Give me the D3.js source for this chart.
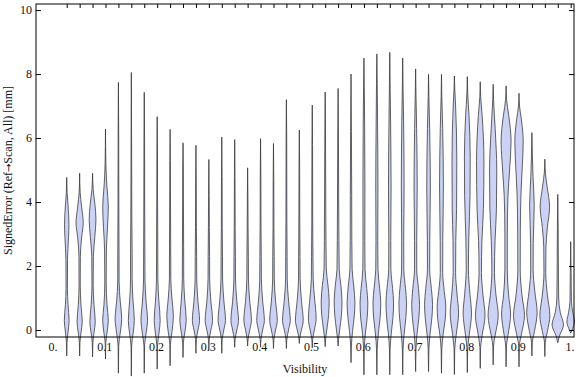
<!DOCTYPE html>
<html>
<head>
<meta charset="utf-8">
<script src="https://cdn.jsdelivr.net/npm/d3@7"></script>
<style>
    body { margin: 0; background: #fff; }
    text { font-family: "Liberation Serif", "Times New Roman", serif; fill: #111; }
</style>
</head>
<body>
<svg id="chart"></svg>
<script>
// category positions (visibility bins)
const visibility = [0.025, 0.05, 0.075, 0.1, 0.125, 0.15, 0.175, 0.2, 0.225, 0.25,
    0.275, 0.3, 0.325, 0.35, 0.375, 0.4, 0.425, 0.45, 0.475, 0.5,
    0.525, 0.55, 0.575, 0.6, 0.625, 0.65, 0.675, 0.7, 0.725, 0.75,
    0.775, 0.8, 0.825, 0.85, 0.875, 0.9, 0.925, 0.95, 0.975, 1.0];

// violin outlines: [signed error, relative density]
const violinProfiles = [
    [[-0.81, 0], [-0.4, 0.3], [-0.1, 1.2], [0.3, 2.4], [0.8, 1.3], [1.3, 0.7], [2.2, 0.8], [2.9, 1.8], [3.3, 2.2], [3.9, 1.3], [4.3, 0.4], [4.77, 0]],
    [[-0.81, 0], [-0.4, 0.3], [-0.1, 1.3], [0.25, 2.6], [0.8, 1.3], [1.4, 0.6], [2.3, 0.7], [2.9, 2.0], [3.35, 3.6], [3.85, 2.0], [4.3, 0.5], [4.9, 0]],
    [[-0.84, 0], [-0.4, 0.3], [-0.1, 1.4], [0.25, 2.7], [0.8, 1.4], [1.4, 0.6], [2.3, 0.8], [2.9, 2.2], [3.45, 3.4], [3.95, 2.3], [4.4, 0.6], [4.9, 0]],
    [[-0.91, 0], [-0.4, 0.3], [-0.1, 1.5], [0.3, 2.8], [0.8, 1.5], [1.5, 0.7], [2.5, 0.9], [3.2, 2.0], [3.85, 2.8], [4.5, 1.4], [5.2, 0.4], [6.28, 0]],
    [[-1.35, 0], [-0.5, 0.3], [-0.1, 1.8], [0.35, 3.3], [0.9, 1.8], [1.5, 0.7], [2.5, 0.6], [4, 0.4], [6, 0.3], [7.74, 0]],
    [[-1.44, 0], [-0.5, 0.3], [-0.1, 1.8], [0.3, 3.0], [0.9, 1.7], [1.6, 0.8], [2.4, 0.8], [3.5, 0.5], [5.5, 0.3], [8.05, 0]],
    [[-1.35, 0], [-0.5, 0.3], [-0.1, 1.9], [0.3, 3.3], [0.9, 1.8], [1.6, 0.7], [2.6, 0.6], [4, 0.4], [6, 0.3], [7.43, 0]],
    [[-1.22, 0], [-0.5, 0.3], [-0.1, 1.8], [0.3, 3.0], [0.9, 1.7], [1.6, 0.7], [2.6, 0.6], [4, 0.4], [5.5, 0.3], [6.67, 0]],
    [[-1.12, 0], [-0.45, 0.3], [-0.05, 1.9], [0.42, 3.3], [1.0, 1.8], [1.6, 0.7], [2.6, 0.6], [4, 0.4], [5.3, 0.3], [6.27, 0]],
    [[-0.86, 0], [-0.4, 0.35], [-0.05, 1.9], [0.3, 3.2], [0.9, 1.8], [1.6, 0.7], [2.6, 0.6], [4, 0.4], [5, 0.3], [5.85, 0]],
    [[-0.73, 0], [-0.3, 0.4], [0, 2.0], [0.3, 3.6], [0.9, 2.0], [1.6, 0.8], [2.3, 0.7], [3.2, 0.45], [4.6, 0.3], [5.77, 0]],
    [[-0.63, 0], [-0.3, 0.4], [0, 2.0], [0.3, 3.7], [0.9, 2.0], [1.6, 0.8], [2.3, 0.7], [3.2, 0.45], [4.2, 0.3], [5.33, 0]],
    [[-0.73, 0], [-0.3, 0.4], [0, 2.0], [0.3, 3.7], [0.9, 2.1], [1.6, 0.8], [2.3, 0.7], [3.2, 0.45], [4.8, 0.3], [6.03, 0]],
    [[-0.54, 0], [-0.3, 0.4], [0, 2.1], [0.3, 3.8], [0.9, 2.1], [1.6, 0.8], [2.3, 0.7], [3.2, 0.45], [4.8, 0.3], [5.95, 0]],
    [[-0.5, 0], [-0.3, 0.4], [0, 2.1], [0.3, 3.8], [0.9, 2.1], [1.6, 0.8], [2.3, 0.7], [3.2, 0.45], [4.0, 0.3], [5.07, 0]],
    [[-0.54, 0], [-0.3, 0.4], [0, 2.1], [0.3, 3.8], [0.9, 2.1], [1.6, 0.8], [2.3, 0.7], [3.2, 0.45], [4.8, 0.3], [5.98, 0]],
    [[-0.58, 0], [-0.3, 0.4], [0, 2.1], [0.3, 3.8], [0.9, 2.1], [1.6, 0.8], [2.3, 0.7], [3.2, 0.45], [4.7, 0.3], [5.83, 0]],
    [[-0.58, 0], [-0.3, 0.4], [0, 2.1], [0.3, 3.9], [0.9, 2.2], [1.6, 0.8], [2.3, 0.7], [3.4, 0.45], [6.0, 0.3], [7.2, 0]],
    [[-0.42, 0], [-0.25, 0.4], [0, 2.1], [0.3, 3.9], [0.9, 2.2], [1.6, 0.8], [2.3, 0.7], [3.4, 0.45], [5.1, 0.3], [6.25, 0]],
    [[-0.56, 0], [-0.3, 0.4], [0, 2.1], [0.35, 3.9], [1.0, 2.3], [1.6, 0.9], [2.3, 0.7], [3.4, 0.45], [5.8, 0.3], [7.03, 0]],
    [[-0.52, 0], [-0.3, 0.4], [0, 1.6], [0.45, 3.4], [0.9, 4.0], [1.4, 2.8], [1.9, 1.1], [2.8, 0.8], [4, 0.6], [6, 0.35], [7.44, 0]],
    [[-0.5, 0], [-0.3, 0.4], [0, 1.6], [0.45, 3.3], [0.9, 3.9], [1.4, 2.8], [1.9, 1.1], [2.8, 0.8], [4, 0.6], [6, 0.35], [7.55, 0]],
    [[-1.02, 0], [-0.5, 0.35], [-0.05, 1.5], [0.45, 3.3], [0.85, 3.9], [1.35, 2.8], [1.9, 1.1], [2.8, 0.8], [4.2, 0.7], [6.2, 0.4], [8.0, 0]],
    [[-1.4, 0], [-0.6, 0.35], [-0.1, 1.5], [0.4, 3.3], [0.85, 3.9], [1.3, 2.8], [1.9, 1.1], [2.8, 0.9], [4.5, 1.0], [6.5, 0.7], [7.6, 0.35], [8.5, 0]],
    [[-1.4, 0], [-0.6, 0.35], [-0.1, 1.5], [0.4, 3.3], [0.85, 3.9], [1.3, 2.8], [1.9, 1.1], [2.8, 0.9], [4.5, 1.1], [6.5, 0.7], [7.7, 0.35], [8.63, 0]],
    [[-1.4, 0], [-0.6, 0.35], [-0.1, 1.5], [0.4, 3.2], [0.85, 3.8], [1.3, 2.8], [1.9, 1.1], [2.8, 1.0], [4.5, 1.3], [6.5, 0.8], [7.7, 0.35], [8.68, 0]],
    [[-1.4, 0], [-0.6, 0.35], [-0.1, 1.5], [0.4, 3.2], [0.85, 3.8], [1.3, 2.8], [1.9, 1.1], [2.8, 1.0], [4.5, 1.4], [6.5, 0.9], [7.6, 0.35], [8.5, 0]],
    [[-1.3, 0], [-0.6, 0.35], [-0.1, 1.5], [0.4, 3.3], [0.8, 3.9], [1.3, 2.8], [1.9, 1.1], [2.8, 1.1], [4.5, 1.6], [6.3, 1.0], [7.4, 0.35], [8.16, 0]],
    [[-1.3, 0], [-0.6, 0.35], [-0.1, 1.6], [0.4, 3.4], [0.8, 4.0], [1.3, 2.8], [1.9, 1.1], [2.8, 1.2], [4.5, 1.8], [6.3, 1.1], [7.3, 0.35], [7.99, 0]],
    [[-1.35, 0], [-0.6, 0.35], [-0.1, 1.8], [0.35, 3.8], [0.73, 4.3], [1.2, 2.8], [1.8, 1.2], [2.8, 1.3], [4.5, 1.9], [6.3, 1.2], [7.3, 0.35], [7.99, 0]],
    [[-1.39, 0], [-0.6, 0.35], [-0.15, 1.8], [0.53, 4.2], [1.1, 2.7], [1.8, 1.2], [2.8, 1.4], [3.8, 2.2], [5.3, 2.4], [7.0, 1.2], [7.5, 0.4], [7.94, 0]],
    [[-1.33, 0], [-0.6, 0.35], [-0.15, 1.9], [0.53, 4.2], [1.1, 2.7], [1.9, 1.1], [2.9, 1.5], [4.2, 2.7], [5.4, 2.9], [6.7, 1.7], [7.4, 0.4], [7.92, 0]],
    [[-1.2, 0], [-0.55, 0.35], [-0.15, 2.0], [0.45, 4.8], [1.1, 2.7], [1.8, 1.2], [2.8, 1.7], [3.8, 3.2], [5.3, 3.7], [6.7, 1.9], [7.3, 0.4], [7.76, 0]],
    [[-1.09, 0], [-0.5, 0.35], [-0.15, 2.1], [0.45, 5.1], [1.1, 2.8], [1.8, 1.3], [2.8, 1.9], [3.8, 3.3], [5.0, 3.6], [6.3, 2.0], [7.2, 0.4], [7.68, 0]],
    [[-1.15, 0], [-0.5, 0.35], [-0.15, 2.0], [0.5, 4.5], [1.1, 2.5], [1.9, 1.2], [3.0, 1.2], [4.2, 1.9], [5.0, 3.5], [5.9, 5.0], [6.7, 2.7], [7.2, 0.5], [7.63, 0]],
    [[-1.15, 0], [-0.5, 0.35], [-0.15, 2.3], [0.45, 5.5], [1.1, 2.9], [1.9, 1.2], [3.0, 1.3], [4.2, 1.9], [5.0, 3.1], [5.9, 4.2], [6.6, 2.3], [7.0, 0.5], [7.4, 0]],
    [[-0.81, 0], [-0.4, 0.35], [-0.05, 2.5], [0.55, 5.2], [1.2, 2.9], [1.9, 1.2], [2.7, 1.3], [3.9, 2.3], [4.8, 1.1], [5.5, 0.4], [6.17, 0]],
    [[-0.83, 0], [-0.4, 0.35], [-0.05, 2.5], [0.45, 5.0], [1.1, 2.5], [1.8, 0.9], [2.6, 1.1], [3.2, 2.5], [3.85, 4.7], [4.5, 2.2], [4.9, 0.6], [5.34, 0]],
    [[-0.4, 0], [-0.2, 1.5], [0.16, 5.7], [0.55, 2.5], [1.0, 0.9], [2.0, 0.6], [3.2, 0.4], [4.24, 0]],
    [[-0.1, 0], [0.05, 2.0], [0.25, 3.8], [0.55, 2.1], [0.9, 0.7], [1.8, 0.4], [2.76, 0]]
];

const xTickValues = [0, 0.1, 0.2, 0.3, 0.4, 0.5, 0.6, 0.7, 0.8, 0.9, 1.0];
const xTickLabels = ["0.", "0.1", "0.2", "0.3", "0.4", "0.5", "0.6", "0.7", "0.8", "0.9", "1."];
const yTickValues = [0, 2, 4, 6, 8, 10];
const yTickLabels = ["0", "2", "4", "6", "8", "10"];

class violinChart {
    constructor(config, positions, profiles) {
        this.config = {
            parent: config.parent,
            width: config.width || 576,
            height: config.height || 377,
            frame: config.frame || { left: 36, right: 574, top: 4, bottom: 337 }
        };
        this.positions = positions;
        this.profiles = profiles;
        this.init();
    }

    init() {
        let self = this;
        let f = self.config.frame;

        self.svg = d3.select(self.config.parent)
            .attr('width', self.config.width)
            .attr('height', self.config.height);

        self.xscale = d3.scaleLinear()
            .domain([0, 1])
            .range([53.8, 570.7]);

        self.yscale = d3.scaleLinear()
            .domain([-0.219, 10.19])
            .range([f.bottom, f.top]);

        // density -> half width in px
        self.wscale = d3.scaleLinear()
            .domain([0, 6])
            .range([0, 6]);
    }

    render() {
        let self = this;
        let f = self.config.frame;

        // violins
        let violin = d3.area()
            .curve(d3.curveMonotoneY)
            .y(d => self.yscale(d[0]));

        self.svg.append('g').selectAll('path')
            .data(self.profiles)
            .enter().append('path')
            .attr('d', (d, i) => {
                let cx = self.xscale(self.positions[i]);
                return violin
                    .x0(p => cx - self.wscale(p[1]))
                    .x1(p => cx + self.wscale(p[1]))(d);
            })
            .attr('fill', 'rgb(204, 210, 245)')
            .attr('stroke', '#333')
            .attr('stroke-opacity', 0.85)
            .attr('stroke-width', 0.9);

        // frame
        self.svg.append('rect')
            .attr('x', f.left)
            .attr('y', f.top)
            .attr('width', f.right - f.left)
            .attr('height', f.bottom - f.top)
            .attr('fill', 'none')
            .attr('stroke', '#000')
            .attr('stroke-width', 1);

        let minorY = d3.range(0, 10.01, 0.5);

        // left axis
        let left = self.svg.append('g').attr('transform', `translate(${f.left},0)`);
        left.call(d3.axisLeft(self.yscale).tickValues(minorY).tickSize(-3).tickFormat(''));
        left.call(d3.axisLeft(self.yscale).tickValues(yTickValues).tickSize(-5).tickPadding(4)
            .tickFormat((d, i) => yTickLabels[i]));

        // right axis
        let right = self.svg.append('g').attr('transform', `translate(${f.right},0)`);
        right.call(d3.axisRight(self.yscale).tickValues(minorY).tickSize(-3).tickFormat(''));
        right.call(d3.axisRight(self.yscale).tickValues(yTickValues).tickSize(-5).tickFormat(''));

        // bottom / top ticks at the categories
        let bottom = self.svg.append('g').attr('transform', `translate(0,${f.bottom})`);
        bottom.call(d3.axisBottom(self.xscale).tickValues(self.positions).tickSize(-4).tickFormat(''));
        bottom.call(d3.axisBottom(self.xscale).tickValues(xTickValues).tickSize(0).tickPadding(5)
            .tickFormat((d, i) => xTickLabels[i]));
        bottom.selectAll('.tick text').attr('dx', '-1.2');

        let top = self.svg.append('g').attr('transform', `translate(0,${f.top})`);
        top.call(d3.axisTop(self.xscale).tickValues(self.positions).tickSize(-4).tickFormat(''));

        self.svg.selectAll('.domain').remove();
        self.svg.selectAll('.tick line').attr('stroke', '#000');
        self.svg.selectAll('.tick text')
            .style('font-size', '12px')
            .style('font-family', '"Liberation Serif", serif')
            .attr('fill', '#111');

        // axis titles
        self.svg.append('text')
            .attr('x', (f.left + f.right) / 2)
            .attr('y', 373)
            .attr('text-anchor', 'middle')
            .style('font-size', '12px')
            .text('Visibility');

        let ylab = self.svg.append('text')
            .attr('transform', `translate(12, ${(f.top + f.bottom) / 2}) rotate(-90)`)
            .attr('text-anchor', 'middle')
            .style('font-size', '12px');
        ylab.append('tspan').text('SignedError (Ref');
        ylab.append('tspan').style('font-family', '"DejaVu Sans"').style('font-size', '10px').text('\u2192');
        ylab.append('tspan').text('Scan, All) [mm]');
    }
}

let chart = new violinChart({ parent: '#chart' }, visibility, violinProfiles);
chart.render();
</script>
</body>
</html>
